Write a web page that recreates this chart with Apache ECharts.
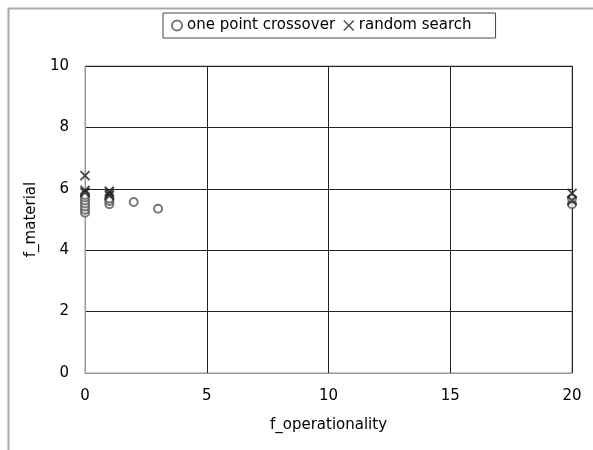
<!DOCTYPE html>
<html><head><meta charset="utf-8">
<script src="https://cdn.jsdelivr.net/npm/echarts@6/dist/echarts.min.js"></script>
<style>html,body{margin:0;padding:0;background:#fff}#c{width:593px;height:450px}</style>
</head><body><div id="c"></div>
<script>
const xTicks = [0, 5, 10, 15, 20];
const yTicks = [0, 2, 4, 6, 8, 10];
const crossoverX = [0, 0, 0, 0, 0, 0, 0, 1, 1, 1, 2, 3, 20, 20];
const crossoverY = [5.22, 5.32, 5.42, 5.52, 5.62, 5.72, 5.8, 5.5, 5.6, 5.68, 5.57, 5.35, 5.5, 5.68];
const randomX = [0, 0, 0, 1, 1, 1, 20, 20];
const randomY = [6.43, 5.95, 5.88, 5.92, 5.85, 5.78, 5.85, 5.62];
const seriesNames = ['one point crossover', 'random search'];

const font = '"DejaVu Sans", sans-serif';
const crossPath = 'path://M0,0L10,10M10,0L0,10';
const chart = echarts.init(document.getElementById('c'));
chart.setOption({
  animation: false,
  backgroundColor: '#fff',
  textStyle: {fontFamily: font},
  graphic: [{
    type: 'rect', left: 6, top: 6, shape: {width: 600, height: 460},
    style: {fill: 'none', stroke: '#aaa', lineWidth: 2}, z: -1
  }],
  grid: {left: 85, right: 21, top: 66, bottom: 77, show: true, borderColor: '#999', borderWidth: 1},
  legend: {
    top: 13, left: 163, itemGap: 8, itemWidth: 10, itemHeight: 10,
    borderColor: '#444', borderWidth: 1, padding: [5, 24, 5, 8],
    textStyle: {fontFamily: font, fontSize: 15, color: '#000'},
    data: [
      {name: seriesNames[0], icon: 'emptyCircle', itemStyle: {color: '#555', borderColor: '#555', borderWidth: 1}},
      {name: seriesNames[1], icon: crossPath, itemStyle: {color: '#222', borderColor: '#222', borderWidth: 1.5}}
    ]
  },
  xAxis: {
    type: 'value', min: xTicks[0], max: xTicks[xTicks.length - 1], interval: 5,
    name: 'f_operationality', nameLocation: 'middle', nameGap: 45,
    nameTextStyle: {fontFamily: font, fontSize: 15, color: '#000'},
    axisLine: {lineStyle: {color: '#999'}}, axisTick: {show: false},
    axisLabel: {fontFamily: font, fontSize: 15, color: '#000', margin: 16},
    splitLine: {lineStyle: {color: '#222', width: 1}}
  },
  yAxis: {
    type: 'value', min: yTicks[0], max: yTicks[yTicks.length - 1], interval: 2,
    name: 'f_material', nameLocation: 'middle', nameGap: 40,
    nameTextStyle: {fontFamily: font, fontSize: 15, color: '#000'},
    axisLine: {show: true, lineStyle: {color: '#999'}}, axisTick: {show: false},
    axisLabel: {fontFamily: font, fontSize: 15, color: '#000', margin: 16},
    splitLine: {lineStyle: {color: '#222', width: 1}}
  },
  series: [
    {
      name: seriesNames[0], type: 'scatter', symbol: 'emptyCircle', symbolSize: 8,
      itemStyle: {color: '#555', borderColor: '#555', borderWidth: 1.2},
      data: crossoverX.map((x, i) => [x, crossoverY[i]]), z: 3
    },
    {
      name: seriesNames[1], type: 'scatter', symbol: crossPath, symbolSize: 9,
      itemStyle: {color: '#222', borderColor: '#222', borderWidth: 2},
      data: randomX.map((x, i) => [x, randomY[i]]), z: 4
    }
  ]
});
</script></body></html>
